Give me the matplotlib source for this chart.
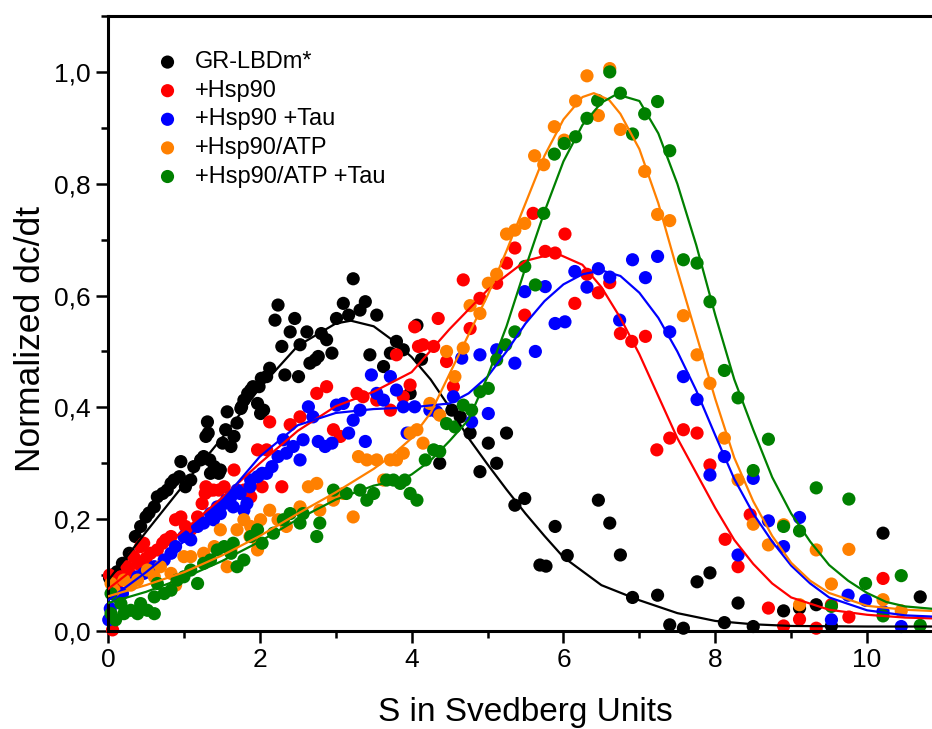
import matplotlib
matplotlib.use("Agg")
import matplotlib.pyplot as plt
from matplotlib.ticker import MultipleLocator, FuncFormatter

plt.rcParams['font.family'] = ['Liberation Sans', 'DejaVu Sans']

# ---- measured sedimentation profiles (S, normalized dc/dt) ----
labels = ["GR-LBDm*", "+Hsp90", "+Hsp90 +Tau", "+Hsp90/ATP", "+Hsp90/ATP +Tau"]
colors = ["#000000", "#ff0000", "#0000ff", "#ff8000", "#008000"]

gr_s = [0.02, 0.06, 0.12, 0.19, 0.28, 0.36, 0.43, 0.50, 0.54, 0.61, 0.65, 0.72, 0.78, 0.83, 0.87,
        0.94, 0.96, 1.02, 1.09, 1.13, 1.22, 1.26, 1.29, 1.31, 1.35, 1.40, 1.46, 1.51, 1.55, 1.57,
        1.62, 1.66, 1.70, 1.75, 1.79, 1.84, 1.88, 1.97, 1.99, 2.01, 1.32, 1.34, 1.48, 1.76, 1.91,
        2.05, 2.02, 2.09, 2.13, 2.24, 2.20, 2.29, 2.33, 2.40, 2.46, 2.51, 2.53, 2.62, 2.66, 2.73,
        2.77, 2.81, 2.88, 2.95, 3.01, 3.10, 3.17, 3.23, 3.32, 3.39, 3.54, 3.45, 3.63, 3.72, 3.80,
        3.89, 3.98, 4.13, 4.07, 4.53, 4.64, 4.77, 5.01, 5.25, 4.37, 4.90, 5.12, 5.36, 5.49, 5.89,
        6.46, 6.61, 5.69, 5.77, 6.05, 6.75, 6.91, 7.24, 7.40, 7.58, 7.76, 7.93, 8.12, 8.30, 8.50,
        8.90, 9.11, 9.33, 9.53, 10.21, 10.70]
gr_v = [0.095, 0.100, 0.106, 0.121, 0.139, 0.169, 0.187, 0.204, 0.211, 0.222, 0.240, 0.246, 0.252, 0.264, 0.270,
        0.276, 0.303, 0.258, 0.270, 0.294, 0.306, 0.312, 0.348, 0.374, 0.282, 0.294, 0.282, 0.336, 0.360, 0.392,
        0.330, 0.348, 0.372, 0.398, 0.413, 0.425, 0.431, 0.407, 0.437, 0.389, 0.354, 0.306, 0.288, 0.401, 0.437,
        0.395, 0.452, 0.455, 0.470, 0.583, 0.556, 0.509, 0.458, 0.535, 0.559, 0.455, 0.512, 0.535, 0.479, 0.485,
        0.491, 0.532, 0.521, 0.497, 0.559, 0.586, 0.565, 0.630, 0.574, 0.589, 0.565, 0.494, 0.473, 0.497, 0.518,
        0.503, 0.425, 0.486, 0.547, 0.395, 0.383, 0.354, 0.336, 0.354, 0.300, 0.285, 0.300, 0.225, 0.237, 0.187,
        0.234, 0.193, 0.118, 0.116, 0.135, 0.136, 0.060, 0.064, 0.011, 0.005, 0.088, 0.104, 0.015, 0.050, 0.008,
        0.036, 0.041, 0.047, 0.009, 0.175, 0.061]

hsp_s = [0.06, 0.02, 0.08, 0.12, 0.17, 0.25, 0.30, 0.34, 0.40, 0.43, 0.47, 0.50, 0.56, 0.65, 0.72,
         0.76, 0.83, 0.89, 0.96, 1.02, 1.09, 1.18, 1.24, 1.29, 1.35, 1.46, 1.53, 1.66, 1.79, 1.88,
         1.97, 2.03, 1.28, 1.39, 1.85, 2.09, 2.13, 2.29, 2.40, 2.53, 2.75, 2.88, 2.97, 3.06, 3.28,
         3.36, 3.54, 3.72, 3.80, 3.89, 3.98, 4.04, 4.09, 4.15, 4.29, 4.35, 4.46, 4.55, 4.68, 4.77,
         4.90, 5.12, 5.25, 5.36, 5.49, 5.60, 5.76, 5.89, 6.02, 6.15, 6.31, 6.46, 6.61, 6.75, 6.90,
         7.08, 7.23, 7.40, 7.58, 7.76, 7.93, 8.13, 8.30, 8.46, 8.70, 8.90, 9.11, 9.33, 9.53, 9.76,
         10.21]
hsp_v = [0.002, 0.100, 0.091, 0.085, 0.097, 0.115, 0.100, 0.133, 0.120, 0.151, 0.157, 0.130, 0.139, 0.145, 0.157,
         0.163, 0.169, 0.199, 0.204, 0.187, 0.181, 0.204, 0.228, 0.258, 0.252, 0.252, 0.258, 0.288, 0.252, 0.240,
         0.324, 0.258, 0.246, 0.252, 0.246, 0.324, 0.374, 0.258, 0.369, 0.383, 0.425, 0.437, 0.360, 0.348, 0.425,
         0.419, 0.413, 0.395, 0.494, 0.419, 0.440, 0.544, 0.509, 0.512, 0.509, 0.559, 0.482, 0.437, 0.628, 0.541,
         0.595, 0.622, 0.658, 0.685, 0.565, 0.747, 0.679, 0.676, 0.710, 0.586, 0.638, 0.605, 0.623, 0.532, 0.518,
         0.527, 0.324, 0.345, 0.360, 0.354, 0.297, 0.164, 0.115, 0.208, 0.041, 0.009, 0.021, 0.005, 0.047, 0.025,
         0.094]

tau_s = [0.01, 0.03, 0.12, 0.19, 0.30, 0.39, 0.47, 0.61, 0.74, 0.83, 0.89, 1.00, 1.09, 1.18, 1.26,
         1.35, 1.44, 1.53, 1.62, 1.70, 1.79, 1.88, 1.97, 2.03, 1.39, 1.48, 1.56, 1.65, 1.74, 1.83,
         1.87, 2.09, 2.16, 2.24, 2.31, 2.35, 2.44, 2.53, 2.57, 2.64, 2.70, 2.77, 2.86, 2.95, 3.01,
         3.10, 3.17, 3.23, 3.32, 3.39, 3.47, 3.54, 3.63, 3.72, 3.80, 3.89, 4.04, 4.24, 4.33, 3.94,
         4.55, 4.66, 4.79, 4.90, 5.01, 5.12, 5.36, 5.49, 5.63, 5.76, 5.89, 6.02, 6.15, 6.31, 6.46,
         6.61, 6.74, 6.91, 7.08, 7.24, 7.40, 7.58, 7.76, 7.93, 8.12, 8.30, 8.50, 8.70, 8.90, 9.11,
         9.53, 9.75, 9.98, 10.21, 10.45]
tau_v = [0.020, 0.040, 0.061, 0.067, 0.085, 0.097, 0.103, 0.115, 0.127, 0.139, 0.151, 0.169, 0.163, 0.187, 0.193,
         0.210, 0.222, 0.228, 0.240, 0.252, 0.216, 0.270, 0.276, 0.282, 0.199, 0.210, 0.234, 0.222, 0.246, 0.228,
         0.258, 0.282, 0.294, 0.312, 0.342, 0.318, 0.330, 0.306, 0.342, 0.401, 0.383, 0.339, 0.330, 0.336, 0.404,
         0.407, 0.354, 0.377, 0.395, 0.339, 0.458, 0.425, 0.413, 0.455, 0.431, 0.401, 0.401, 0.395, 0.392, 0.354,
         0.419, 0.488, 0.374, 0.494, 0.389, 0.503, 0.479, 0.607, 0.500, 0.616, 0.550, 0.553, 0.643, 0.615, 0.648,
         0.633, 0.556, 0.664, 0.632, 0.670, 0.535, 0.455, 0.414, 0.279, 0.312, 0.136, 0.273, 0.197, 0.151, 0.203,
         0.020, 0.064, 0.055, 0.035, 0.008]

atp_s = [0.04, 0.08, 0.21, 0.30, 0.39, 0.52, 0.61, 0.69, 0.83, 0.89, 1.00, 1.09, 1.26, 1.40, 1.48,
         1.57, 1.62, 1.70, 1.79, 1.88, 1.97, 2.01, 1.87, 1.98, 2.13, 2.24, 2.35, 2.53, 2.64, 2.75,
         2.79, 2.97, 3.10, 3.23, 3.30, 3.41, 3.54, 3.63, 3.72, 3.80, 3.89, 3.98, 4.07, 4.15, 4.24,
         4.37, 4.46, 4.57, 4.68, 4.77, 4.90, 5.01, 5.12, 5.25, 5.36, 5.49, 5.62, 5.74, 5.88, 6.01,
         6.16, 6.31, 6.46, 6.61, 6.75, 7.07, 7.24, 7.40, 7.58, 7.76, 7.93, 8.12, 8.30, 8.50, 8.70,
         8.90, 9.11, 9.33, 9.53, 9.76, 10.21, 10.45]
atp_v = [0.085, 0.073, 0.091, 0.082, 0.091, 0.109, 0.097, 0.115, 0.103, 0.082, 0.133, 0.133, 0.139, 0.151, 0.181,
         0.115, 0.145, 0.181, 0.199, 0.187, 0.145, 0.199, 0.169, 0.157, 0.216, 0.199, 0.187, 0.222, 0.258, 0.264,
         0.216, 0.234, 0.246, 0.204, 0.312, 0.306, 0.306, 0.270, 0.306, 0.306, 0.318, 0.354, 0.360, 0.336, 0.407,
         0.386, 0.500, 0.455, 0.506, 0.582, 0.568, 0.622, 0.638, 0.710, 0.717, 0.729, 0.850, 0.834, 0.902, 0.878,
         0.948, 0.993, 0.922, 1.006, 0.897, 0.822, 0.745, 0.734, 0.564, 0.494, 0.443, 0.345, 0.270, 0.191, 0.154,
         0.190, 0.047, 0.145, 0.084, 0.146, 0.056, 0.036]

atptau_s = [0.04, 0.04, 0.10, 0.17, 0.21, 0.30, 0.39, 0.43, 0.52, 0.61, 0.61, 0.65, 0.74, 0.83, 0.91,
            1.00, 1.09, 1.18, 1.26, 1.35, 1.44, 1.53, 1.62, 1.70, 1.79, 1.88, 1.97, 2.03, 1.65, 2.18,
            2.31, 2.40, 2.53, 2.57, 2.75, 2.79, 2.97, 3.14, 3.32, 3.41, 3.50, 3.67, 3.76, 3.85, 3.98,
            3.91, 4.07, 4.18, 4.29, 4.37, 4.46, 4.57, 4.68, 4.79, 4.90, 5.01, 5.12, 5.24, 5.36, 5.49,
            5.63, 5.74, 5.88, 6.01, 6.16, 6.31, 6.45, 6.61, 6.75, 6.91, 7.07, 7.24, 7.40, 7.58, 7.76,
            7.93, 8.12, 8.30, 8.50, 8.70, 8.90, 9.11, 9.33, 9.53, 9.76, 9.98, 10.21, 10.45, 10.70]
atptau_v = [0.067, 0.031, 0.020, 0.049, 0.031, 0.037, 0.031, 0.049, 0.037, 0.031, 0.061, 0.085, 0.067, 0.073, 0.091,
            0.097, 0.109, 0.085, 0.121, 0.127, 0.145, 0.151, 0.139, 0.115, 0.127, 0.169, 0.181, 0.157, 0.157, 0.175,
            0.199, 0.210, 0.193, 0.210, 0.169, 0.193, 0.252, 0.246, 0.252, 0.234, 0.246, 0.270, 0.270, 0.264, 0.246,
            0.270, 0.234, 0.306, 0.324, 0.321, 0.371, 0.365, 0.404, 0.395, 0.428, 0.434, 0.485, 0.512, 0.535, 0.652,
            0.619, 0.747, 0.853, 0.872, 0.884, 0.917, 0.949, 1.000, 0.962, 0.889, 0.925, 0.947, 0.859, 0.664, 0.658,
            0.589, 0.466, 0.417, 0.287, 0.343, 0.187, 0.179, 0.256, 0.044, 0.236, 0.085, 0.027, 0.099, 0.010]

# ---- fitted distributions, read at fixed S positions ----
gr_fit_s = [0, 0.5, 1, 1.5, 2, 2.5, 3, 3.2, 3.5, 3.75, 4, 4.25, 4.5, 4.75, 5, 5.25, 5.5, 5.75,
            6, 6.5, 7, 7.5, 8, 8.5, 9, 10, 11]
gr_fit_v = [0.090, 0.177, 0.262, 0.345, 0.435, 0.510, 0.550, 0.555, 0.545, 0.520, 0.490, 0.450, 0.400,
            0.345, 0.298, 0.253, 0.210, 0.170, 0.132, 0.082, 0.055, 0.032, 0.018, 0.012, 0.009, 0.008, 0.008]

hsp_fit_s = [0, 0.5, 1, 1.5, 2, 2.5, 3, 3.5, 4, 4.5, 5, 5.5, 5.9, 6.25, 6.5, 6.75, 7, 7.25, 7.5,
             7.8, 8, 8.25, 8.5, 8.75, 9, 9.5, 10, 10.5, 11]
hsp_fit_v = [0.075, 0.128, 0.180, 0.238, 0.300, 0.358, 0.402, 0.428, 0.463, 0.540, 0.610, 0.662, 0.676,
             0.655, 0.615, 0.560, 0.495, 0.420, 0.345, 0.270, 0.220, 0.163, 0.120, 0.085, 0.060, 0.038,
             0.029, 0.024, 0.022]

tau_fit_s = [0, 0.5, 1, 1.5, 2, 2.5, 3, 3.5, 4, 4.5, 4.75, 5, 5.25, 5.5, 5.75, 6, 6.25, 6.5, 6.75,
             7, 7.25, 7.5, 7.75, 8, 8.25, 8.5, 8.75, 9, 9.25, 9.5, 10, 10.5, 11]
tau_fit_v = [0.055, 0.105, 0.160, 0.232, 0.312, 0.368, 0.390, 0.397, 0.400, 0.407, 0.425, 0.455, 0.500,
             0.550, 0.590, 0.620, 0.638, 0.645, 0.635, 0.605, 0.560, 0.500, 0.430, 0.350, 0.272, 0.210,
             0.160, 0.117, 0.085, 0.060, 0.037, 0.028, 0.025]

atp_fit_s = [0, 0.5, 1, 1.5, 2, 2.5, 3, 3.5, 3.75, 4, 4.25, 4.5, 4.75, 5, 5.25, 5.5, 5.75, 6, 6.25,
             6.4, 6.6, 6.75, 7, 7.25, 7.5, 7.75, 8, 8.25, 8.5, 8.75, 9, 9.25, 9.5, 10, 10.5, 11]
atp_fit_v = [0.062, 0.082, 0.105, 0.135, 0.170, 0.210, 0.248, 0.290, 0.315, 0.345, 0.390, 0.460, 0.530,
             0.600, 0.680, 0.765, 0.850, 0.915, 0.955, 0.962, 0.950, 0.925, 0.862, 0.765, 0.645, 0.530,
             0.415, 0.310, 0.232, 0.170, 0.122, 0.090, 0.068, 0.045, 0.038, 0.035]

atptau_fit_s = [0, 0.5, 1, 1.5, 2, 2.5, 3, 3.5, 3.85, 4, 4.25, 4.5, 4.75, 5, 5.25, 5.5, 5.75, 6,
                6.25, 6.5, 6.7, 7, 7.25, 7.5, 7.75, 8, 8.25, 8.5, 8.75, 9, 9.25, 9.5, 9.75, 10,
                10.25, 10.5, 11]
atptau_fit_v = [0.050, 0.070, 0.095, 0.125, 0.160, 0.200, 0.235, 0.260, 0.270, 0.280, 0.305, 0.340,
                0.378, 0.455, 0.545, 0.650, 0.750, 0.840, 0.905, 0.945, 0.960, 0.948, 0.890, 0.800,
                0.690, 0.565, 0.450, 0.360, 0.275, 0.210, 0.160, 0.118, 0.090, 0.068, 0.052, 0.044, 0.038]

points = [(gr_s, gr_v), (hsp_s, hsp_v), (tau_s, tau_v), (atp_s, atp_v), (atptau_s, atptau_v)]
fits = [(gr_fit_s, gr_fit_v), (hsp_fit_s, hsp_fit_v), (tau_fit_s, tau_fit_v),
        (atp_fit_s, atp_fit_v), (atptau_fit_s, atptau_fit_v)]

fig = plt.figure(figsize=(9.32, 7.29), dpi=100)
ax = fig.add_axes([108 / 932, 1 - 631 / 729, (943 - 108) / 932, (631 - 16) / 729])

for (s, v), c, lab in zip(points, colors, labels):
    ax.scatter(s, v, s=90, color=c, edgecolors='none', label=lab, zorder=2, clip_on=False)
for (s, v), c in zip(fits, colors):
    ax.plot(s, v, color=c, lw=1.6, zorder=3)

ax.set_xlim(0, 11)
ax.set_ylim(0, 1.1)
ax.xaxis.set_major_locator(MultipleLocator(2))
ax.xaxis.set_minor_locator(MultipleLocator(1))
ax.yaxis.set_major_locator(MultipleLocator(0.2))
ax.yaxis.set_minor_locator(MultipleLocator(0.1))
ax.yaxis.set_major_formatter(FuncFormatter(lambda v, p: f"{v:.1f}".replace('.', ',')))
ax.xaxis.set_major_formatter(FuncFormatter(lambda v, p: f"{v:.0f}"))

for side in ('left', 'bottom', 'top'):
    ax.spines[side].set_linewidth(2.2)
ax.spines['right'].set_visible(False)
ax.tick_params(which='major', direction='out', length=8.5, width=1.8, labelsize=19, pad=4,
               top=False, right=False)
ax.tick_params(which='minor', direction='out', length=5, width=1.8, top=False, right=False)

ax.set_xlabel("S in Svedberg Units", fontsize=24, labelpad=18)
ax.set_ylabel("Normalized dc/dt", fontsize=25.5)
ax.yaxis.set_label_coords(-0.073, 0.475)

leg = ax.legend(loc='upper left', bbox_to_anchor=(0.043, 0.958), frameon=False, fontsize=17,
                handletextpad=0.55, labelspacing=0.28, borderaxespad=0, handlelength=1.2,
                scatterpoints=1)

fig.savefig("out.png", dpi=100)
